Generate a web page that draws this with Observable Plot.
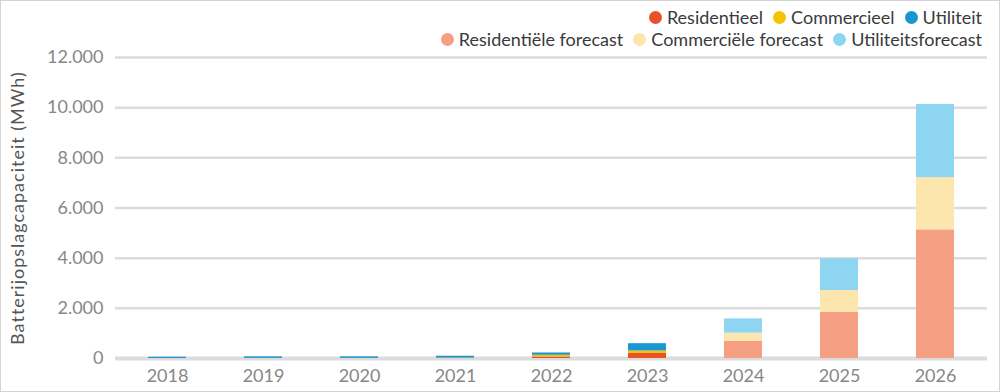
<!DOCTYPE html>
<html><head><meta charset="utf-8">
<script src="https://cdn.jsdelivr.net/npm/d3@7"></script>
<script src="https://cdn.jsdelivr.net/npm/@observablehq/plot@0.6"></script>
<style>
html,body{margin:0;padding:0;background:#fff;}
#frame{width:1000px;height:392px;box-sizing:border-box;border:1px solid #d4d4d4;overflow:hidden;font-family:Lato,sans-serif;}
#legend{height:48px;box-sizing:border-box;padding:5px 17px 0 0;}
.row{display:flex;justify-content:flex-end;height:22px;align-items:center;}
.item{display:flex;align-items:center;margin-left:10px;font-size:18px;color:#3a3a3a;}
.dot{width:13px;height:13px;border-radius:50%;margin-right:5px;}
svg{overflow:visible;display:block;}
</style></head>
<body><div id="frame"><div id="legend"></div><div id="chart"></div></div>
<script>
const years = ["2018","2019","2020","2021","2022","2023","2024","2025","2026"];
const seriesNames = ["Residentieel","Commercieel","Utiliteit","Residentiële forecast","Commerciële forecast","Utiliteitsforecast"];
const seriesColors = ["#e8522a","#f6c300","#1a97d0","#f6a083","#fde6ad","#8ed5f1"];
const residentieel = [0, 5, 5, 10, 60, 200, 0, 0, 0];
const commercieel = [0, 0, 0, 10, 70, 100, 0, 0, 0];
const utiliteit = [50, 60, 60, 70, 90, 290, 0, 0, 0];
const residentieleForecast = [0, 0, 0, 0, 0, 0, 680, 1850, 5130];
const commercieleForecast = [0, 0, 0, 0, 0, 0, 330, 860, 2080];
const utiliteitsForecast = [0, 0, 0, 0, 0, 0, 570, 1270, 2920];
const yTicks = [0, 2000, 4000, 6000, 8000, 10000, 12000];
const yLabel = "Batterijopslagcapaciteit (MWh)";
const legendRows = [[0,1,2],[3,4,5]];

const seriesValues = [residentieel, commercieel, utiliteit, residentieleForecast, commercieleForecast, utiliteitsForecast];
const data = [];
seriesNames.forEach((s, i) => years.forEach((y, j) => data.push({year: y, series: s, value: seriesValues[i][j]})));

const nl = d3.formatLocale({decimal: ",", thousands: ".", grouping: [3], currency: ["€", ""]});
const fmt = nl.format(",d");

// legend
const leg = document.getElementById("legend");
legendRows.forEach(r => {
  const row = document.createElement("div"); row.className = "row";
  r.forEach(i => {
    const it = document.createElement("div"); it.className = "item";
    const d = document.createElement("span"); d.className = "dot"; d.style.background = seriesColors[i];
    const t = document.createElement("span"); t.textContent = seriesNames[i];
    it.appendChild(d); it.appendChild(t); row.appendChild(it);
  });
  leg.appendChild(row);
});

const chart = Plot.plot({
  width: 998, height: 342,
  marginTop: 8, marginBottom: 33, marginLeft: 114, marginRight: 12,
  style: {fontFamily: "Lato, sans-serif", fontSize: "18px", color: "#878787", background: "transparent"},
  x: {domain: years, paddingInner: 0.6, paddingOuter: 0.3, label: null},
  y: {domain: [0, 12000], label: null},
  color: {domain: seriesNames, range: seriesColors},
  marks: [
    Plot.ruleY(yTicks.filter(d => d > 0), {stroke: "#dcdcdc", strokeWidth: 2.5}),
    Plot.ruleY([0], {stroke: "#dcdcdc", strokeWidth: 4}),
    Plot.barY(data, {x: "year", y: "value", fill: "series", order: seriesNames}),
    Plot.axisY({ticks: yTicks, tickFormat: fmt, tickSize: 0, tickPadding: 12, label: null}),
    Plot.axisX({tickSize: 0, tickPadding: 11, label: null}),
    Plot.text([yLabel], {frameAnchor: "left", textAnchor: "middle", dx: -97, rotate: -90, fontSize: 18, fill: "#555"})
  ]
});
d3.select(chart).selectAll("text").filter(function() { return this.textContent === yLabel; }).style("letter-spacing", "1px");
document.getElementById("chart").appendChild(chart);
</script></body></html>
